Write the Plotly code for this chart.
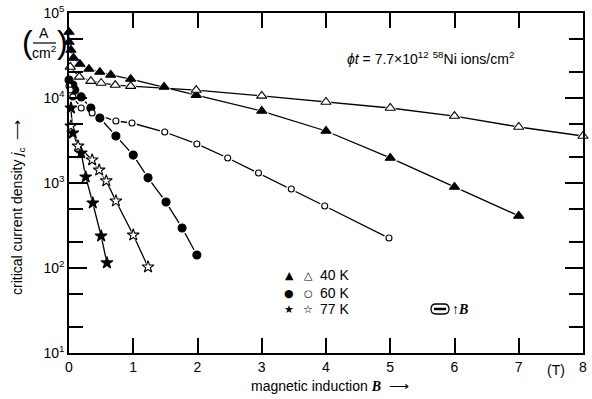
import plotly.graph_objects as go

# ---- data ----
B_40_filled = [0, 0, 0.03, 0.07, 0.17, 0.31, 0.48, 0.65, 0.96, 1.48, 1.98, 3, 4, 5, 6, 7]
J_40_filled = [59700, 45600, 36700, 29600, 25100, 21900, 20200, 18700, 16700, 13500, 10800, 7030, 4090, 1970, 898, 410]

B_40_open = [0.02, 0.16, 0.34, 0.5, 0.72, 0.96, 1.98, 3, 4, 5, 6, 7, 8]
J_40_open = [23200, 17700, 15800, 15000, 14200, 13800, 12400, 10600, 8970, 7630, 6130, 4560, 3570]

B_60_filled = [0, 0.06, 0.09, 0.19, 0.34, 0.48, 0.73, 1.0, 1.23, 1.51, 1.76, 1.99]
J_60_filled = [16300, 14200, 12400, 10300, 7620, 5820, 3570, 2130, 1150, 597, 296, 142]

B_60_open = [0, 0.02, 0.06, 0.19, 0.36, 0.73, 0.98, 1.49, 1.99, 2.47, 2.95, 3.46, 3.98, 4.98]
J_60_open = [13800, 12400, 10300, 7620, 6660, 5360, 5080, 3980, 2880, 1970, 1310, 850, 536, 225]

B_77_filled = [0.03, 0.06, 0.19, 0.26, 0.37, 0.5, 0.59]
J_77_filled = [7620, 3870, 2250, 1180, 582, 238, 115]

B_77_open = [0.03, 0.14, 0.36, 0.47, 0.58, 0.73, 1.0, 1.23]
J_77_open = [4690, 2720, 1870, 1420, 1060, 614, 244, 103]

x_ticks = [0, 1, 2, 3, 4, 5, 6, 7, 8]
x_labels = ["0", "1", "2", "3", "4", "5", "6", "7", "8"]
y_major = [10, 100, 1000, 10000, 100000]
y_labels = ["10<sup>1</sup>", "10<sup>2</sup>", "10<sup>3</sup>", "10<sup>4</sup>", "10<sup>5</sup>"]
y_minor = [20, 50, 200, 500, 2000, 5000, 20000, 50000]

FONT = "Liberation Sans Narrow, Arial Narrow, Liberation Sans, Arial, sans-serif"

series = [
    (B_40_filled, J_40_filled, "triangle-up", 9, "black"),
    (B_40_open, J_40_open, "triangle-up", 9, "white"),
    (B_60_filled, J_60_filled, "circle", 8, "black"),
    (B_60_open, J_60_open, "circle", 6, "white"),
    (B_77_filled, J_77_filled, "star", 9, "black"),
    (B_77_open, J_77_open, "star", 9, "white"),
]

fig = go.Figure()
for bx, jy, sym, size, fill in series:
    fig.add_trace(go.Scatter(x=bx, y=jy, mode="lines", line=dict(color="black", width=1.3),
                             hoverinfo="skip", showlegend=False, cliponaxis=False))
for bx, jy, sym, size, fill in series:
    # white halo gives the small gaps around the markers
    fig.add_trace(go.Scatter(x=bx, y=jy, mode="markers",
                             marker=dict(symbol=sym, size=size + 4, color="white", line=dict(width=0)),
                             hoverinfo="skip", showlegend=False, cliponaxis=False))
for bx, jy, sym, size, fill in series:
    fig.add_trace(go.Scatter(x=bx, y=jy, mode="markers",
                             marker=dict(symbol=sym, size=size, color=fill,
                                         line=dict(color="black", width=1.1)),
                             showlegend=False, cliponaxis=False))

fig.update_xaxes(range=[0, 8], tickmode="array", tickvals=x_ticks, ticktext=x_labels,
                 ticks="inside", ticklen=15, tickwidth=1.5, tickcolor="black",
                 showline=True, linecolor="black", linewidth=1.5, mirror="ticks",
                 showgrid=False, zeroline=False, automargin=False,
                 tickfont=dict(family=FONT, size=14, color="black"))
fig.update_yaxes(type="log", range=[1, 5], tickmode="array", tickvals=y_major, ticktext=y_labels,
                 ticks="inside", ticklen=18, tickwidth=1.5, tickcolor="black",
                 minor=dict(tickmode="array", tickvals=y_minor, ticks="inside", ticklen=14,
                            tickwidth=1.5, tickcolor="black", showgrid=False),
                 showline=True, linecolor="black", linewidth=1.5, mirror="ticks",
                 showgrid=False, zeroline=False, automargin=False,
                 tickfont=dict(family=FONT, size=14, color="black"))

L, R, T, Bm = 69, 9, 13, 46
W, H = 592, 399
pw, ph = W - L - R, H - T - Bm

def px(x):
    return (x - L) / pw

def py(y):
    return (H - Bm - y) / ph

ann = []
def text(x, y, s, size=13, angle=0, xanchor="center", family=FONT):
    ann.append(dict(x=px(x), y=py(y), xref="paper", yref="paper", text=s, showarrow=False,
                    xanchor=xanchor, yanchor="middle", textangle=angle,
                    font=dict(family=family, size=size, color="black")))

# unit label (A / cm^2)
text(27, 42, "(", size=32, family="Liberation Sans, sans-serif")
text(62, 42, ")", size=32, family="Liberation Sans, sans-serif")
text(44, 33, "A", size=14)
text(44, 52, "cm<sup>2</sup>", size=14)

# y-axis title
text(18, 208, "critical current density <i>j</i><sub>c</sub>  ⟶", size=14, angle=-90)
# x-axis title
text(330, 386, "magnetic induction <span style='font-family:Liberation Serif'><b><i>B</i></b></span>  ⟶", size=14)
text(556, 370, "(T)", size=14)

# fluence annotation
text(430, 58, "<i>ϕt</i> = 7.7×10<sup>12</sup> <sup>58</sup>Ni ions/cm<sup>2</sup>", size=14)

# legend
for yy, lab in [(275, "40 K"), (293, "60 K"), (309, "77 K")]:
    text(318, yy, lab, size=14, xanchor="left")
text(289, 275, "▲", size=11, family="DejaVu Sans")
text(308, 275, "△", size=11, family="DejaVu Sans")
text(289, 293, "●", size=11, family="DejaVu Sans")
text(308, 293, "○", size=10, family="DejaVu Sans")
text(289, 309, "★", size=11, family="DejaVu Sans")
text(308, 309, "☆", size=11, family="DejaVu Sans")
text(450, 309, "↑<span style='font-family:Liberation Serif'><b><i>B</i></b></span>", size=14, xanchor="left")

shapes = [
    dict(type="line", xref="paper", yref="paper", x0=px(33), x1=px(56), y0=py(43), y1=py(43),
         line=dict(color="black", width=1.2)),
    # sample symbol (rounded bar with inner stripe)
    dict(type="path", xref="paper", yref="paper",
         path=f"M {px(436)},{py(304)} L {px(444)},{py(304)} "
              f"Q {px(449)},{py(304)} {px(449)},{py(309)} Q {px(449)},{py(314)} {px(444)},{py(314)} "
              f"L {px(436)},{py(314)} Q {px(431)},{py(314)} {px(431)},{py(309)} "
              f"Q {px(431)},{py(304)} {px(436)},{py(304)} Z",
         line=dict(color="black", width=1.3)),
    dict(type="line", xref="paper", yref="paper", x0=px(434), x1=px(446), y0=py(309), y1=py(309),
         line=dict(color="black", width=2.5)),
]

fig.update_layout(width=W, height=H, margin=dict(l=L, r=R, t=T, b=Bm),
                  paper_bgcolor="white", plot_bgcolor="white",
                  annotations=ann, shapes=shapes, showlegend=False)

fig.write_html("out.html", config={"displayModeBar": False},
               post_script="document.body.style.margin='0px';document.body.style.overflow='hidden';")
